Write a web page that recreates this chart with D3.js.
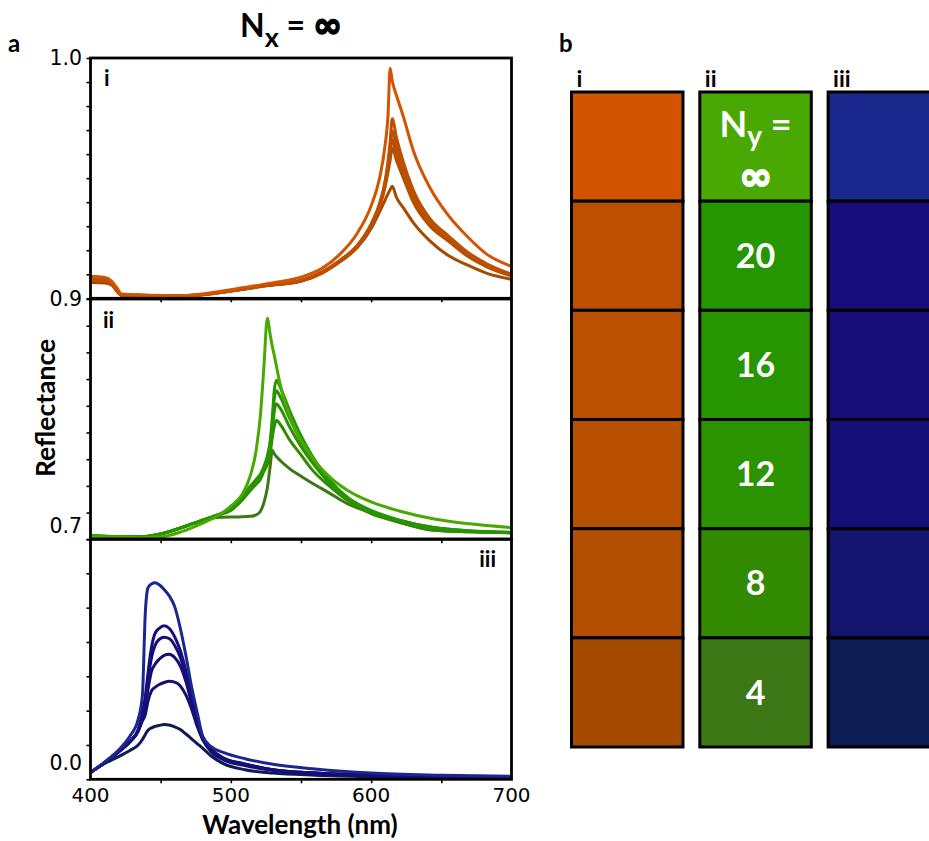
<!DOCTYPE html>
<html><head><meta charset="utf-8">
<script src="https://cdn.jsdelivr.net/npm/d3@7/dist/d3.min.js"></script>
<style>body{margin:0;background:#fff}svg{display:block}</style>
</head><body><svg id="c" width="929" height="841"></svg>
<script>
// ---------- DATA ----------
const seriesNames = ["∞","20","16","12","8","4"];
const columnNames = ["i","ii","iii"];

const colorsI   = ["#D35400","#BD5000","#BA5000","#B75100","#B24F00","#A44B00"];
const colorsII  = ["#4AA802","#269600","#279500","#2B9200","#328A00","#3D7816"];
const colorsIII = ["#1A288E","#170D7C","#170E7A","#151077","#121470","#0D1C52"];

// Panel i (orange)
const wavelengthI = [400,410,415,419,422,440,460,480,500,525,550,565,578,590,600,606,610,612,613.5,615,618,623,630,642,655,668,682,700];
const reflI_inf = [.9092,.9087,.9072,.9042,.9018,.9014,.9010,.9018,.9036,.9060,.9088,.9125,.9185,.9270,.9385,.9500,.9640,.9760,.9957,.9905,.9845,.9755,.9615,.9459,.9345,.9260,.9185,.9133];
const reflI_20  = [.9088,.9082,.9066,.9035,.9015,.9012,.9010,.9016,.9032,.9055,.9075,.9110,.9160,.9220,.9310,.9395,.9490,.9570,.9650,.9747,.9670,.9565,.9450,.9330,.9260,.9195,.9145,.9100];
const reflI_16  = [.9084,.9079,.9064,.9033,.9014,.9012,.9010,.9016,.9031,.9054,.9074,.9108,.9158,.9218,.9306,.9390,.9482,.9555,.9625,.9697,.9630,.9540,.9430,.9320,.9252,.9188,.9140,.9097];
const reflI_12  = [.9080,.9076,.9062,.9031,.9013,.9011,.9010,.9015,.9030,.9053,.9073,.9107,.9156,.9216,.9303,.9385,.9474,.9540,.9600,.9660,.9600,.9520,.9415,.9310,.9245,.9183,.9136,.9095];
const reflI_8   = [.9074,.9071,.9060,.9030,.9013,.9011,.9010,.9015,.9030,.9052,.9072,.9106,.9155,.9214,.9300,.9380,.9466,.9525,.9575,.9625,.9575,.9500,.9400,.9300,.9238,.9178,.9132,.9093];
const reflI_4   = [.9066,.9064,.9056,.9028,.9012,.9011,.9010,.9015,.9030,.9052,.9071,.9105,.9153,.9210,.9290,.9360,.9410,.9435,.9452,.9466,.9420,.9376,.9315,.9238,.9178,.9140,.9105,.9079];

// Panel ii (green)
const wavelengthII = [400,420,435,450,465,478,490,500,508,514,518,521,523.5,526,528,529.5,531,532.5,535,542,550,558,570,583,600,620,645,670,700];
const reflII_inf = [.7025,.7022,.7015,.7022,.7072,.7140,.7215,.7310,.7420,.7600,.7830,.8150,.8600,.9069,.8920,.8810,.8720,.8620,.8460,.8150,.7930,.7765,.7590,.7460,.7350,.7265,.7190,.7145,.7110];
const reflII_20  = [.7030,.7025,.7022,.7050,.7110,.7170,.7225,.7290,.7400,.7500,.7560,.7610,.7680,.7780,.7920,.8130,.8400,.8490,.8430,.8200,.7970,.7780,.7560,.7395,.7270,.7180,.7110,.7080,.7065];
const reflII_16  = [.7030,.7025,.7022,.7050,.7110,.7170,.7225,.7285,.7390,.7490,.7550,.7600,.7665,.7760,.7880,.8080,.8320,.8390,.8340,.8130,.7920,.7750,.7545,.7390,.7265,.7178,.7108,.7078,.7064];
const reflII_12  = [.7030,.7025,.7022,.7050,.7110,.7170,.7225,.7280,.7380,.7475,.7535,.7585,.7650,.7740,.7840,.8010,.8200,.8270,.8230,.8050,.7870,.7720,.7530,.7385,.7260,.7175,.7105,.7076,.7063];
const reflII_8   = [.7030,.7025,.7022,.7050,.7110,.7170,.7225,.7270,.7365,.7460,.7515,.7560,.7635,.7700,.7800,.7950,.8060,.8115,.8080,.7928,.7790,.7650,.7500,.7366,.7240,.7160,.7084,.7070,.7060];
const reflII_4   = [.7030,.7025,.7022,.7050,.7110,.7165,.7205,.7209,.7210,.7215,.7228,.7260,.7340,.7480,.7680,.7834,.7800,.7775,.7740,.7660,.7590,.7525,.7435,.7333,.7250,.7160,.7084,.7070,.7060];

// Panel iii (blue)
const wavelengthIII = [400,410,420,428,434,437,439,441,443.5,446,449,452.5,456,460,464,468,472,476,480,486,495,510,530,560,600,650,700];
const reflIII_inf = [.020,.050,.085,.125,.175,.245,.480,.558,.569,.5725,.567,.553,.535,.503,.440,.360,.270,.195,.125,.095,.078,.060,.044,.030,.018,.012,.009];
const reflIII_20  = [.020,.048,.080,.110,.145,.195,.240,.310,.385,.425,.440,.447,.440,.415,.375,.315,.240,.168,.122,.088,.062,.045,.028,.018,.011,.008,.006];
const reflIII_16  = [.020,.048,.080,.110,.143,.185,.225,.290,.355,.390,.408,.414,.410,.390,.355,.300,.232,.165,.120,.087,.060,.044,.028,.018,.011,.008,.006];
const reflIII_12  = [.020,.048,.080,.109,.142,.180,.212,.262,.315,.335,.350,.361,.3646,.355,.330,.285,.222,.160,.116,.085,.058,.043,.027,.018,.011,.008,.006];
const reflIII_8   = [.020,.048,.080,.108,.140,.170,.188,.228,.258,.268,.276,.282,.2855,.283,.272,.245,.205,.155,.115,.080,.056,.040,.026,.017,.011,.008,.006];
const reflIII_4   = [.020,.046,.066,.084,.100,.116,.130,.143,.150,.154,.157,.1595,.158,.153,.145,.132,.118,.104,.090,.068,.045,.028,.018,.012,.008,.006,.005];

// Axes
const xDomain = [400,700];
const xMajorTicks = [400,500,600,700];
const xMinorTicks = [450,500,550,600,650];
const panelDomains = [[0.9,1.0],[0.7,0.925],[0.0,0.7]];
const panelTickSteps = [0.01,0.025,0.1];
const panelTickValues = [[1.0,0.9],[0.7],[0.0]];
const panelTickLabels = [["1.0","0.9"],["0.7"],["0.0"]];
const panelNames = ["i","ii","iii"];

// ---------- LAYOUT ----------
const svg = d3.select("#c");
svg.append("rect").attr("width",929).attr("height",841).attr("fill","#fff");
const boldFont = "Lato, 'Open Sans', sans-serif";
const tickFont = "'DejaVu Sans', Verdana, sans-serif";
const symFont = "'DejaVu Sans', sans-serif";

const x = d3.scaleLinear().domain(xDomain).range([90.5,511.5]);
const panelTops = [58,299,539];
const panelH = 240.3;

const panelData = [
  {wl: wavelengthI,   series:[reflI_inf,reflI_20,reflI_16,reflI_12,reflI_8,reflI_4], colors: colorsI},
  {wl: wavelengthII,  series:[reflII_inf,reflII_20,reflII_16,reflII_12,reflII_8,reflII_4], colors: colorsII},
  {wl: wavelengthIII, series:[reflIII_inf,reflIII_20,reflIII_16,reflIII_12,reflIII_8,reflIII_4], colors: colorsIII}
];
const labelDy = [[0,0],[-14],[-17]];
const panelLabelPos = [{x:104,y:86,anchor:"start"},{x:103,y:328,anchor:"start"},{x:496,y:567,anchor:"end"}];

panelData.forEach((pd,pi)=>{
  const top = panelTops[pi], bottom = top + panelH;
  const dom = panelDomains[pi];
  const y = d3.scaleLinear().domain(dom).range([bottom, top]);
  const g = svg.append("g");
  const clipId = "clip"+pi;
  svg.append("clipPath").attr("id",clipId).append("rect")
    .attr("x",x.range()[0]).attr("y",top).attr("width",x.range()[1]-x.range()[0]).attr("height",panelH);

  const line = d3.line().x(d=>x(d[0])).y(d=>y(d[1])).curve(d3.curveMonotoneX);
  const lines = g.append("g").attr("clip-path",`url(#${clipId})`);
  for (let si = pd.series.length-1; si>=0; si--) {
    lines.append("path")
      .datum(d3.zip(pd.wl, pd.series[si]))
      .attr("d", line)
      .attr("fill","none")
      .attr("stroke", pd.colors[si])
      .attr("stroke-width", 3)
      .attr("stroke-linejoin","round");
  }

  const step = panelTickSteps[pi];
  const nSteps = Math.round((dom[1]-dom[0])/step);
  const yt = d3.range(nSteps+1).map(k => dom[0] + k*step);
  const ya = d3.axisLeft(y).tickValues(yt).tickSize(4).tickFormat("");
  const yg = g.append("g").attr("transform",`translate(${x.range()[0]},0)`).call(ya);
  yg.select(".domain").remove();
  yg.selectAll("line").attr("stroke","#000").attr("stroke-width",1.6);

  const xa = d3.axisBottom(x).tickValues(xMinorTicks).tickSize(4).tickFormat("");
  const xg = g.append("g").attr("transform",`translate(0,${bottom})`).call(xa);
  xg.select(".domain").remove();
  xg.selectAll("line").attr("stroke","#000").attr("stroke-width",1.6);

  g.append("rect").attr("x",x.range()[0]).attr("y",top)
    .attr("width",x.range()[1]-x.range()[0]).attr("height",panelH)
    .attr("fill","none").attr("stroke","#000").attr("stroke-width",2.8);

  panelTickValues[pi].forEach((v,k)=>{
    g.append("text").attr("x",82).attr("y",y(v)+labelDy[pi][k])
      .attr("dy","0.36em").attr("text-anchor","end")
      .attr("font-family",tickFont).attr("font-size",20.5).attr("fill","#000")
      .text(panelTickLabels[pi][k]);
  });

  const pl = panelLabelPos[pi];
  g.append("text").attr("x",pl.x).attr("y",pl.y).attr("text-anchor",pl.anchor)
    .attr("font-family",boldFont).attr("font-weight","bold").attr("font-size",22)
    .text(panelNames[pi]);
});

// x tick labels
svg.append("g").selectAll("text").data(xMajorTicks).join("text")
  .attr("x",d=>x(d)).attr("y",802).attr("text-anchor","middle")
  .attr("font-family",tickFont).attr("font-size",20).text(d=>d);

// axis titles
svg.append("text").attr("x",300).attr("y",834).attr("text-anchor","middle")
  .attr("font-family",boldFont).attr("font-weight","bold").attr("font-size",26)
  .text("Wavelength (nm)");
svg.append("text").attr("transform","translate(55,408) rotate(-90)").attr("text-anchor","middle")
  .attr("font-family",boldFont).attr("font-weight","bold").attr("font-size",26.5)
  .text("Reflectance");

// title
const title = svg.append("text").attr("x",240).attr("y",36.5)
  .attr("font-family",boldFont).attr("font-weight","bold").attr("font-size",32);
title.append("tspan").text("N");
title.append("tspan").attr("dy",10).attr("font-size",27).text("x");
title.append("tspan").attr("dy",-10).text(" = ");
title.append("tspan").attr("font-family",symFont).attr("font-size",35)
  .attr("stroke","#000").attr("stroke-width",1.6).text("∞");

// panel letters
svg.append("text").attr("x",8).attr("y",52).attr("font-family",boldFont).attr("font-weight","bold").attr("font-size",24).text("a");
svg.append("text").attr("x",559).attr("y",52).attr("font-family",boldFont).attr("font-weight","bold").attr("font-size",24).text("b");

// ---------- PANEL b: colour swatches ----------
const colX = d3.scaleBand().domain(columnNames).range([571.5,939.6]).paddingInner(0.131).paddingOuter(0);
const rowY = d3.scaleBand().domain(seriesNames).range([92,747]).padding(0);
const swatchColors = [colorsI, colorsII, colorsIII];

columnNames.forEach((c,ci)=>{
  const cg = svg.append("g");
  cg.selectAll("rect").data(seriesNames).join("rect")
    .attr("x",colX(c)).attr("y",d=>rowY(d))
    .attr("width",colX.bandwidth()).attr("height",rowY.bandwidth())
    .attr("fill",(d,i)=>swatchColors[ci][i])
    .attr("stroke","#000").attr("stroke-width",3);
  svg.append("text").attr("x",colX(c)+5).attr("y",87)
    .attr("font-family",boldFont).attr("font-weight","bold").attr("font-size",23).text(c);
});

const cx = colX("ii") + colX.bandwidth()/2;
const lbl = svg.append("g").attr("fill","#fff").attr("font-family",boldFont).attr("font-weight","bold");
const ny = lbl.append("text").attr("x",cx).attr("y",137).attr("text-anchor","middle").attr("font-size",36);
ny.append("tspan").text("N");
ny.append("tspan").attr("dy",9).attr("font-size",28).text("y");
ny.append("tspan").attr("dy",-9).text(" =");
ny.append("tspan").attr("x",cx).attr("dy",53).attr("font-family",symFont).attr("font-size",40)
  .attr("stroke","#fff").attr("stroke-width",1.8).text("∞");
lbl.selectAll("text.num").data(seriesNames.slice(1)).join("text").attr("class","num")
  .attr("x",cx).attr("y",d=>rowY(d)+rowY.bandwidth()/2).attr("dy","0.36em")
  .attr("text-anchor","middle").attr("font-size",34).text(d=>d);
</script>
</body></html>
